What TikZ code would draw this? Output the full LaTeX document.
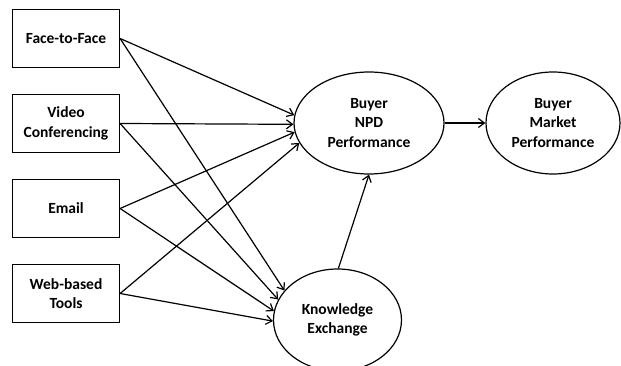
\documentclass[tikz,border=0pt]{standalone}
\usepackage{fontspec}
\setmainfont{Carlito}
\usetikzlibrary{arrows.meta,shapes.geometric}
\begin{document}
\begin{tikzpicture}[x=1pt,y=-1pt,
  every node/.style={font=\fontsize{15.5}{19.3}\selectfont\bfseries, align=center},
  channel/.style={draw, line width=1.2pt, minimum width=107pt, minimum height=58pt, inner sep=0pt},
  construct/.style={draw, ellipse, line width=1.2pt, inner sep=0pt},
  link/.style={line width=1.2pt, -{Straight Barb[length=6pt,width=9pt,line width=1.2pt]}}]
\clip (0,0) rectangle (621,366);
\fill[white] (0,0) rectangle (621,366);
% communication channels
\node[channel] (f2f)   at (66,38.5)  {Face-to-Face};
\node[channel] (video) at (66,123.5) {Video\\Conferencing};
\node[channel] (email) at (66,208.5) {Email};
\node[channel] (web)   at (66,293.5) {Web-based\\Tools};
% outcome constructs
\node[construct, minimum width=150pt, minimum height=102pt] (npd) at (369,123) {Buyer\\NPD\\Performance};
\node[construct, minimum width=134pt, minimum height=102pt] (market) at (553,123) {Buyer\\Market\\Performance};
\node[construct, minimum width=128pt, minimum height=102pt] (know) at (337.5,320) {Knowledge\\Exchange};
% paths to NPD performance
\draw[link] (f2f.east)   -- (npd.174);
\draw[link] (video.east) -- (npd.181);
\draw[link] (email.east) -- (npd.187.5);
\draw[link] (web.east)   -- (npd.196.5);
% paths to knowledge exchange
\draw[link] (f2f.east)   -- (know.151);
\draw[link] (video.east) -- (know.161.5);
\draw[link] (email.east) -- (know.172.5);
\draw[link] (web.east)   -- (know.181.5);
% mediation and outcome
\draw[link] (know.89) -- (npd.south);
\draw[link] (npd.east) -- (market.west);
\end{tikzpicture}
\end{document}
